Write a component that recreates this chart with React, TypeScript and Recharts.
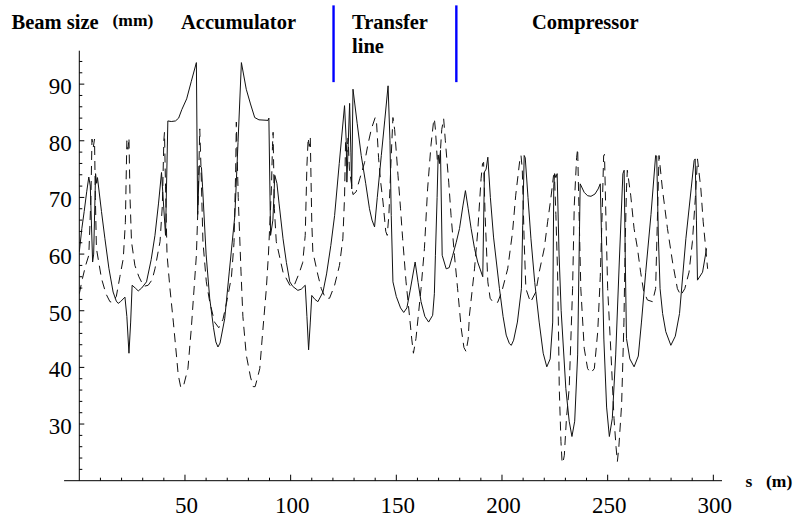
import React from 'react';
import { LineChart, Line, XAxis, YAxis, ReferenceLine } from 'recharts';

// Solid curve: [s (m), beam size (mm)]
const solidPts: [number, number][] = [
  [0, 60.4], [1.2, 64.5], [2.3, 67.5], [3.5, 71], [4.5, 73.6], [5.2, 72], [6.3, 58.6], [6.8, 60],
  [7.7, 74.2], [8.2, 72.5], [8.6, 73.5], [10.5, 67.5], [12.1, 62.8], [14, 57.5], [16, 53.3],
  [17.5, 51.7], [18.4, 51.3], [19.5, 51.6], [21.6, 52.4], [22.5, 49], [23.5, 42.5], [24.3, 48],
  [25, 54.5], [26.5, 54], [27.9, 53.5], [29.5, 54], [31.8, 55.1], [34, 59], [35.8, 63.3],
  [37.5, 69], [38.9, 74.4], [40.8, 63.3], [41.9, 83.5], [43.5, 83.4], [45.5, 83.5], [47, 84],
  [48.5, 85.5], [50.8, 87.4], [53, 90.5], [55.4, 93.8], [56.0, 67], [56.8, 75.6], [57.8, 75.3],
  [58.3, 72], [60, 60], [61.7, 52.2], [63.5, 47], [64.6, 44.5], [65.6, 43.6], [66.6, 44.3],
  [68.8, 48.6], [71, 57], [73.6, 66.8], [75.1, 79.7], [76.7, 93.8], [79, 89.1], [81, 86.5],
  [83, 84.1], [85, 83.7], [89.3, 83.6], [89.7, 84], [90.5, 63.3], [91.6, 66], [92.5, 73.9],
  [93.5, 72.5], [94.5, 69], [96.4, 62.7], [98, 58.5], [99.6, 55.1], [101, 54.3], [103.4, 53.6],
  [105, 53.8], [106.9, 54.5], [107.7, 49], [108.5, 43.1], [109.3, 48], [110, 52.7], [111.5, 52],
  [112.9, 51.6], [115.3, 53.3], [117, 56.5], [119, 61.5], [120.8, 66.8], [123, 76], [125.5, 86.2],
  [126.3, 80], [126.6, 72.7], [127.3, 80], [127.9, 86.6], [128.5, 78], [128.9, 71.5], [129.5, 89.1],
  [131.5, 83], [133.4, 77.4], [135.5, 72.5], [137.3, 68], [138.5, 66], [139.7, 64.8], [141, 70],
  [142.9, 77.4], [144.5, 83.5], [146.1, 89.7], [147, 80], [147.6, 66.8], [148.4, 55.1], [150, 52.5],
  [152, 50.5], [153.5, 49.7], [155, 50.5], [156.5, 53.5], [158.9, 58.6], [160.3, 55], [161.7, 51.6],
  [163.5, 49], [165.3, 48], [167.2, 49.2], [168, 53], [168.5, 59.8], [169.3, 70], [169.8, 77.5],
  [170.4, 76], [170.9, 78.3], [171.7, 59.8], [173.6, 57.4], [175, 57.6], [176.7, 59.8], [178.3, 62],
  [179.9, 64.5], [181.5, 68.5], [182.7, 71.2], [184, 68], [185.4, 64.5], [187, 61], [188.5, 58.6],
  [190.9, 56], [191.7, 74.5], [192.5, 75], [193.3, 77.1], [194.5, 70], [196, 63], [198.8, 53.9],
  [200.5, 49], [202, 45.7], [203.5, 44.2], [204.4, 43.9], [205.5, 44.8], [207.3, 48], [209.2, 53.9],
  [209.8, 65], [210.5, 77.4], [211, 77], [212.3, 70], [213.7, 62.7], [215.5, 55], [217.6, 48],
  [219.5, 42.5], [221.2, 40.1], [222.8, 41.5], [224, 48], [224.5, 72], [224.9, 74.2], [225.5, 73.5],
  [226.1, 74.2], [227, 60], [228, 50], [230.2, 36.3], [231.8, 30.5], [233.1, 27.8], [234.4, 30.5],
  [235.8, 42.2], [236.5, 60], [237, 72.4], [238.9, 70.9], [240.5, 70.3], [242.1, 70.2], [244, 70.6],
  [245.5, 71.5], [246.5, 72.4], [247.3, 60], [248.2, 45], [249.5, 33], [250.8, 27.8], [252.2, 31],
  [253.8, 42.2], [255.5, 58.6], [257.2, 74.2], [257.8, 74.8], [258.3, 60], [258.9, 45.1],
  [260.5, 41.5], [262.5, 40.1], [264.5, 42], [266, 48], [268, 56.8], [270.5, 67], [272.7, 77.4],
  [273.2, 77.3], [274, 63], [274.8, 53.9], [276, 49.5], [277.5, 46.3], [279.9, 43.9], [282, 45.5],
  [284, 49.5], [287, 62.7], [289.5, 71.5], [290.9, 76.5], [291.4, 76.8], [292, 66], [292.5, 55.4],
  [294.9, 56.8], [296.8, 61],
];

// Dashed curve: [s (m), beam size (mm)]
const dashedPts: [number, number][] = [
  [0, 53], [1.5, 55.7], [3, 58], [4.5, 59.8], [5.5, 70], [6.0, 80.3], [6.6, 78.8], [7.2, 80.3],
  [7.6, 70], [8.1, 61], [10.5, 55.7], [12.6, 53], [14.5, 51.6], [15.5, 51.5], [17.5, 52.5],
  [19.2, 56], [20.8, 59.2], [21.8, 65.6], [22.5, 80], [23.0, 78.5], [23.5, 80.5], [24, 70],
  [24.7, 62.2], [26.3, 58], [28.2, 56], [30.5, 54.3], [32.6, 54.5], [34.5, 55.5], [35.8, 57.4],
  [38.2, 62.2], [39.3, 68.6], [40.0, 80], [40.3, 81.5], [40.8, 72], [41.5, 60], [42.9, 53.9],
  [44.5, 48], [46, 42], [46.8, 38.7], [48.0, 36.5], [48.7, 36.4], [49.5, 37], [51.4, 39.8],
  [53, 46.9], [55.4, 59.8], [56.2, 69], [57, 82.1], [57.6, 75], [58.5, 62.2], [60.1, 55.1],
  [61.7, 51.6], [64, 48], [66, 47], [68, 48.5], [70, 52], [72, 56], [73.2, 62], [74.0, 75],
  [74.3, 83.3], [75.2, 70], [76.5, 57], [77.4, 49], [79, 42.2], [81, 38.3], [82.3, 36.6],
  [83.2, 36.6], [84.2, 38], [85.4, 39.8], [86.5, 45], [88.5, 53.9], [89.5, 60], [90.9, 71.5],
  [91.4, 79], [91.7, 81.5], [92.3, 68], [93.2, 62.2], [94.5, 60], [96.4, 56.8], [99.6, 54.5],
  [101.5, 54.3], [104.2, 56.8], [105.7, 58.5], [106.9, 63.3], [107.7, 75.6], [108.3, 80.5],
  [108.8, 79], [109.3, 80.5], [110, 65.7], [110.5, 60.4], [112.9, 56.3], [114.5, 53.9],
  [116.5, 52.2], [118.4, 52.2], [120.8, 54.5], [123.1, 58], [124.7, 62.7], [125.5, 70], [126, 80],
  [126.6, 78], [127.2, 80.5], [127.8, 75], [129.5, 70.5], [131, 71], [132.7, 73.3], [135, 76.2],
  [136.6, 79.4], [138.2, 82.1], [140.0, 84.1], [140.6, 83.5], [141.6, 77], [142.6, 72.7],
  [143.7, 69.2], [145.0, 64], [145.7, 63.3], [146.5, 67], [147.6, 77.4], [148.4, 84.1], [149.2, 82],
  [150.8, 73.9], [152, 68], [153, 62.7], [154.6, 55.1], [156.2, 49.2], [157.3, 45], [158.1, 42.5],
  [159.3, 45.1], [161.7, 53.9], [163.3, 61], [164.8, 71.5], [166.4, 79.2], [167.5, 83], [168, 83.9],
  [168.5, 82], [169.5, 76], [170.5, 76], [171.5, 82], [172.4, 83.9], [173.2, 80], [174.8, 72.7],
  [175.9, 66.8], [177.5, 59.8], [179, 53.9], [180.7, 46.9], [182, 43.5], [183, 42.8], [184, 45],
  [184.6, 49.2], [187, 57.4], [188.5, 63.9], [190.1, 73.3], [190.8, 76], [191.3, 76.2], [192, 67],
  [193.3, 55.1], [194.4, 52.2], [196, 51.4], [198, 51.5], [200, 53.5], [202.7, 57.4], [205, 63.9],
  [206.5, 70.4], [208.4, 76.5], [209, 77.4], [209.6, 75], [210.5, 62.2], [211.3, 53.9],
  [213.5, 51.5], [216, 53.3], [217.6, 56.8], [220, 61], [221.6, 65.7], [223.1, 69.8], [224.4, 73.9],
  [224.8, 74], [225.5, 67], [226.3, 56.8], [226.8, 45], [227.1, 36.3], [227.9, 26.9], [228.4, 23.5],
  [228.8, 23.1], [229.5, 24.5], [230.5, 31], [231.8, 36.3], [233.4, 53.9], [234.2, 68.6],
  [235.3, 77], [235.8, 78.6], [236.3, 70], [237.3, 53.9], [238.9, 43.4], [240.5, 39.8], [242, 39],
  [243.7, 39.8], [245.3, 46.3], [246.5, 56], [247.3, 66], [248.1, 77.4], [248.5, 77.6], [249.2, 66],
  [250, 53.9], [251.6, 42.2], [253, 31], [254, 25.8], [254.6, 23.4], [255.3, 26], [256.6, 33.4],
  [257.7, 48], [258.3, 62], [258.9, 71.5], [259.3, 74.8], [260.9, 70.4], [262.5, 64.5], [264.1, 61],
  [265.6, 56.8], [267, 53.5], [268.8, 51.9], [271.2, 51.6], [272.7, 53.9], [273.5, 65.7],
  [274.3, 77.4], [275.9, 71.5], [278.3, 64.5], [280.7, 58.6], [283, 53.9], [284.6, 52.7],
  [286.5, 53.9], [288.5, 56.8], [290.1, 62.2], [291.5, 70], [292.5, 76.8], [294.1, 71.5],
  [295.2, 65.7], [296.4, 61], [297.3, 57.4],
];

const xTicks = [10, 20, 30, 40, 50, 60, 70, 80, 90, 100, 110, 120, 130, 140, 150, 160, 170, 180,
  190, 200, 210, 220, 230, 240, 250, 260, 270, 280, 290, 300];
const xLabelTicks = [50, 100, 150, 200, 250, 300];
const yTicks = [22, 24, 26, 28, 30, 32, 34, 36, 38, 40, 42, 44, 46, 48, 50, 52, 54, 56, 58, 60,
  62, 64, 66, 68, 70, 72, 74, 76, 78, 80, 82, 84, 86, 88, 90, 92, 94];
const yLabelTicks = [30, 40, 50, 60, 70, 80, 90];
const sectionBoundaries = [120.3, 178.4];

const solidData = solidPts.map(([s, v]) => ({ s, v }));
const dashedData = dashedPts.map(([s, v]) => ({ s, v }));

const FONT = '"Liberation Serif", "Times New Roman", Times, serif';

const XTick = (props: any) => {
  const { x, y, payload } = props;
  const v = payload.value;
  const major = xLabelTicks.includes(v);
  return (
    <g>
      <line x1={x} x2={x} y1={y} y2={y - (major ? 6 : 3)} stroke="#000" strokeWidth={1} />
      {major && (
        <text x={x + 1.5} y={y + 32.6} textAnchor="middle" fontFamily={FONT} fontSize={23} fill="#000">
          {v}
        </text>
      )}
    </g>
  );
};

const YTick = (props: any) => {
  const { x, y, payload } = props;
  const v = payload.value;
  const major = yLabelTicks.includes(v);
  return (
    <g>
      <line x1={x} x2={x + (major ? 5 : 3)} y1={y} y2={y} stroke="#000" strokeWidth={1} />
      {major && (
        <text x={x - 7.5} y={y + 10} textAnchor="end" fontFamily={FONT} fontSize={23} fill="#000">
          {v}
        </text>
      )}
    </g>
  );
};

export default function App() {
  return (
    <div style={{ position: 'absolute', left: 0, top: 0, width: 794, height: 523, background: '#fff' }}>
      <LineChart
        width={794}
        height={523}
        margin={{ top: 50.7, right: 72, bottom: 12.3, left: 0 }}
      >
        <XAxis
          type="number"
          dataKey="s"
          domain={[0, 304.1]}
          allowDataOverflow
          ticks={xTicks}
          interval={0}
          tickSize={0}
          tickMargin={0}
          tickLine={false}
          axisLine={false}
          tick={(p: any) => <XTick {...p} />}
          height={30}
        />
        <YAxis
          type="number"
          domain={[20, 95.9]}
          allowDataOverflow
          ticks={yTicks}
          interval={0}
          tickSize={0}
          tickMargin={0}
          tickLine={false}
          axisLine={{ stroke: '#000', strokeWidth: 1 }}
          tick={(p: any) => <YTick {...p} />}
          width={79.3}
        />
        <ReferenceLine
          segment={[{ x: -7.2, y: 20 }, { x: 304.1, y: 20 }]}
          stroke="#000"
          strokeWidth={1}
          ifOverflow="visible"
        />
        {sectionBoundaries.map((b) => (
          <ReferenceLine
            key={b}
            segment={[{ x: b, y: 90.35 }, { x: b, y: 103.9 }]}
            stroke="#0000ff"
            strokeWidth={2.4}
            ifOverflow="visible"
          />
        ))}
        <Line
          data={dashedData}
          dataKey="v"
          type="linear"
          stroke="#111"
          strokeWidth={1}
          strokeDasharray="9 6"
          dot={false}
          activeDot={false}
          isAnimationActive={false}
        />
        <Line
          data={solidData}
          dataKey="v"
          type="linear"
          stroke="#111"
          strokeWidth={1}
          dot={false}
          activeDot={false}
          isAnimationActive={false}
        />
      </LineChart>
      <svg
        width={794}
        height={523}
        style={{ position: 'absolute', left: 0, top: 0, pointerEvents: 'none' }}
      >
        <g fontFamily={FONT} fontWeight="bold" fill="#000">
          <text x={11.5} y={29.3} fontSize={20.5}>Beam size</text>
          <text x={112.5} y={26} fontSize={17.5}>(mm)</text>
          <text x={181} y={29.3} fontSize={20.5}>Accumulator</text>
          <text x={352} y={29.3} fontSize={20.5}>Transfer</text>
          <text x={352} y={53.3} fontSize={20.5}>line</text>
          <text x={532} y={29.3} fontSize={20.5}>Compressor</text>
          <text x={745.5} y={486.5} fontSize={17.5}>s</text>
          <text x={766} y={486.5} fontSize={17.5}>(m)</text>
        </g>
      </svg>
    </div>
  );
}
